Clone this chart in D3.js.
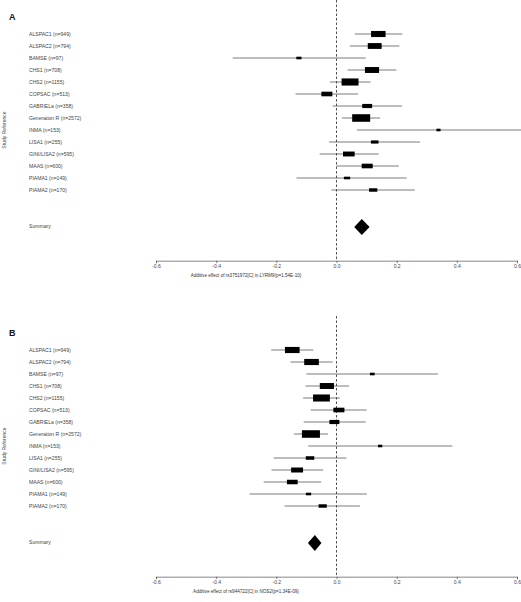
<!DOCTYPE html>
<html><head><meta charset="utf-8">
<script src="https://cdn.jsdelivr.net/npm/d3@7/dist/d3.min.js"></script>
<style>body{margin:0;background:#fff}svg{display:block}</style>
</head><body>
<script>
const studies = ["ALSPAC1 (n=949)","ALSPAC2 (n=794)","BAMSE (n=97)","CHS1 (n=708)","CHS2 (n=1155)","COPSAC (n=513)","GABRIELa (n=358)","Generation R (n=2572)","INMA (n=153)","LISA1 (n=255)","GINI/LISA2 (n=595)","MAAS (n=600)","PIAMA1 (n=149)","PIAMA2 (n=170)"];
const tickValues = [-0.6,-0.4,-0.2,0.0,0.2,0.4,0.6];

// Panel A: rs3751972[C] in LYRM9
const estA = [0.139,0.127,-0.125,0.118,0.045,-0.032,0.102,0.082,0.339,0.127,0.041,0.102,0.035,0.122];
const loA  = [0.061,0.044,-0.345,0.037,-0.022,-0.136,-0.013,0.018,0.068,-0.025,-0.056,0.000,-0.133,-0.017];
const hiA  = [0.219,0.209,0.097,0.199,0.113,0.072,0.218,0.145,0.620,0.278,0.140,0.207,0.233,0.260];
const sumA = {est:0.084, lo:0.059, hi:0.110};

// Panel B: rs944722[C] in NOS2
const estB = [-0.147,-0.083,0.119,-0.032,-0.050,0.008,-0.007,-0.085,0.145,-0.088,-0.131,-0.147,-0.093,-0.046];
const loB  = [-0.217,-0.153,-0.100,-0.103,-0.111,-0.086,-0.109,-0.142,-0.094,-0.209,-0.216,-0.242,-0.289,-0.173];
const hiB  = [-0.077,-0.013,0.337,0.042,0.011,0.100,0.097,-0.028,0.385,0.033,-0.044,-0.051,0.101,0.078];
const sumB = {est:-0.072, lo:-0.095, hi:-0.050};

const panels = [
  {letter:"A", est:estA, lo:loA, hi:hiA, sum:sumA, snp:"rs3751972[C]", gene:"LYRM9", p:"(p=1.54E-10)", top:0},
  {letter:"B", est:estB, lo:loB, hi:hiB, sum:sumB, snp:"rs944722[C]", gene:"NOS2", p:"(p=1.34E-09)", top:316}
];

const W = 521, H = 602;
const svg = d3.select("body").append("svg").attr("width",W).attr("height",H)
  .style("font-family","'Liberation Sans', Arial, sans-serif");

const x = d3.scaleLinear().domain([-0.6,0.6]).range([156,517]);
const maxBox = 18;

panels.forEach(p => {
  const g = svg.append("g").attr("transform",`translate(0,${p.top})`);
  const y = d3.scaleLinear().domain([0,16]).range([34,226]);
  const axisY = y(18.89);

  g.append("text").attr("x",9).attr("y",20).attr("font-size",9).attr("font-weight","bold")
    .attr("fill","#111").text(p.letter);

  g.append("text").attr("transform",`translate(5.5,${130}) rotate(-90)`)
    .attr("text-anchor","middle").attr("font-size",5).attr("fill","#444").text("Study Reference");

  // reference line
  g.append("line").attr("x1",x(0)).attr("x2",x(0)).attr("y1",y(-2.83)).attr("y2",axisY)
    .attr("stroke","#222").attr("stroke-width",0.8).attr("stroke-dasharray","2.5,2");

  const rows = studies.map((s,i)=>({s, i, est:p.est[i], lo:p.lo[i], hi:p.hi[i]}));
  const minCI = d3.min(rows, d=>d.hi-d.lo);

  g.selectAll("text.lab").data(rows).enter().append("text").attr("class","lab")
    .attr("x",29).attr("y",d=>y(d.i)).attr("dy","0.35em").attr("font-size",5.1)
    .attr("fill","#444").text(d=>d.s);

  g.selectAll("line.ci").data(rows).enter().append("line").attr("class","ci")
    .attr("x1",d=>x(d.lo)).attr("x2",d=>x(d.hi)).attr("y1",d=>y(d.i)).attr("y2",d=>y(d.i))
    .attr("stroke","#444").attr("stroke-width",0.7);

  g.selectAll("rect.box").data(rows).enter().append("rect").attr("class","box")
    .each(function(d){
      const w = maxBox*minCI/(d.hi-d.lo);
      const h = Math.max(2.6, w*0.42);
      d3.select(this).attr("x",x(d.est)-w/2).attr("y",y(d.i)-h/2).attr("width",w).attr("height",h);
    }).attr("fill","#000");

  g.append("text").attr("x",29).attr("y",y(16)).attr("dy","0.35em").attr("font-size",5.1)
    .attr("fill","#444").text("Summary");

  const sy = y(16.08), dh = 8;
  g.append("path").attr("d",`M${x(p.sum.lo)},${sy}L${x(p.sum.est)},${sy-dh}L${x(p.sum.hi)},${sy}L${x(p.sum.est)},${sy+dh}Z`)
    .attr("fill","#000");

  const axis = d3.axisBottom(x).tickValues(tickValues).tickFormat(d3.format(".1f")).tickSize(2.5).tickPadding(1.5);
  const ag = g.append("g").attr("transform",`translate(0,${axisY})`).call(axis);
  ag.select(".domain").attr("stroke","#555").attr("stroke-width",0.7);
  ag.selectAll(".tick line").attr("stroke","#555").attr("stroke-width",0.7);
  ag.selectAll(".tick text").attr("font-size",5).attr("fill","#444")
    .attr("font-family","'Liberation Sans', Arial, sans-serif")
    .text(d=>d3.format(".1f")(d).replace("−","-"));

  const t = g.append("text").attr("x",246).attr("y",axisY+16).attr("text-anchor","middle")
    .attr("font-size",4.6).attr("fill","#333");
  t.append("tspan").text(`Additive effect of ${p.snp} in `);
  t.append("tspan").attr("font-style","italic").text(p.gene);
  t.append("tspan").text(p.p);
});
</script>
</body></html>
